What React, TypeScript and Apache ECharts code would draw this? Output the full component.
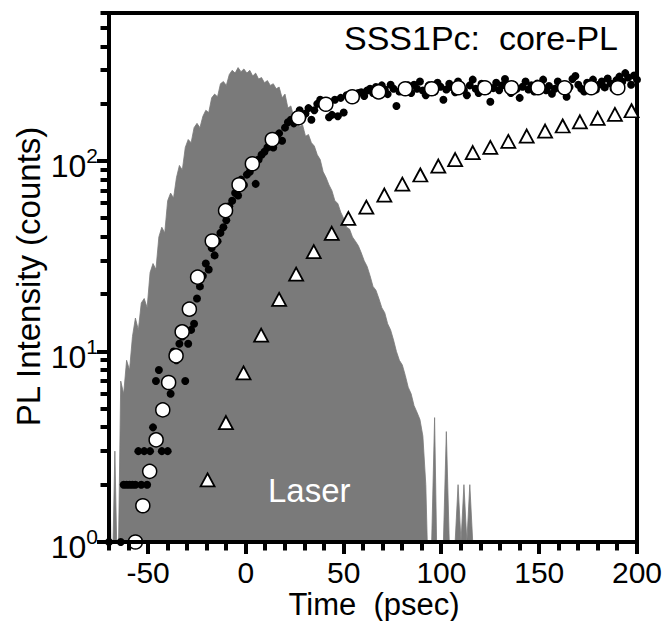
import React, { useEffect, useRef } from "react";
import * as echarts from "echarts";

const FONT = '"Liberation Sans", Arial, Helvetica, sans-serif';

const X_MIN = -70;
const X_MAX = 200;
const Y_MIN = 1;
const Y_MAX = 600;

const X_TICKS = [-70, -60, -50, -40, -30, -20, -10, 0, 10, 20, 30, 40, 50, 60, 70, 80, 90, 100, 110, 120, 130, 140, 150, 160, 170, 180, 190, 200];
const X_LABELS = [-50, 0, 50, 100, 150, 200];
const Y_MAJOR = [1, 10, 100];
const Y_MINOR = [2, 3, 4, 5, 6, 7, 8, 9, 20, 30, 40, 50, 60, 70, 80, 90, 200, 300, 400, 500, 600];

// Laser profile (counts), sampled every 1.5 ps from -70 ps (0.5 = no counts)
const LASER_T0 = -70;
const LASER_DT = 1.5;
const laserCounts = [
  4, 0.5, 3, 0.5, 7, 6, 9, 8, 12, 15, 13, 18, 19, 17, 26, 29, 27, 40, 45, 42,
  62, 68, 64, 82, 95, 90, 118, 130, 125, 150, 158, 150, 172, 185, 180, 215, 225, 218, 255, 262,
  250, 285, 300, 290, 310, 295, 305, 290, 300, 280, 290, 270, 275, 258, 265, 250, 255, 240, 245, 215,
  225, 190, 195, 170, 165, 152, 155, 135, 138, 125, 120, 108, 102, 88, 82, 75, 70, 62, 60, 54,
  50, 45, 44, 40, 38, 36, 33, 30, 28, 25, 22, 21, 19, 17, 16, 14, 13, 11.5, 10, 9,
  8.5, 7.5, 6.5, 6, 5.2, 4.8, 4.4, 3.6, 2, 0.5, 1, 4.5, 0.5, 0.5, 1, 3.8, 1, 0.5, 1, 2,
  1, 2, 1, 2, 1, 0.5,
];

// Core-PL raw counts (black dots), sampled every 1.5 ps from -70 ps (null = no counts)
const DOT_T0 = -70;
const DOT_DT = 1.5;
const dotCounts = [
  1, null, null, null, 1, 2, 2, 2, 2, 2, 3, 2, 3, 2, 3, 4, 7, 8, 3, 5,
  3, 6, 10, 9, 11, 12, 7, 11, 13, 14, 19, 22, 25, 29, 27, 35, 32, 38, 42, 45,
  49, 58, 62, 68, 66, 80, 75, 85, 88, 98, 76, 102, 108, 112, 118, 120, 118, 135, 140, 128,
  150, 160, 165, 158, 175, 185, 170, 178, 190, 165, 185, 200, 210, 205, 195, 170, 175, 210, 172, 215,
  180, 222, 218, 225, 212, 228, 230, 220, 235, 240, 228, 245, 232, 250, 238, 225, 252, 240, 195, 232,
  245, 236, 250, 228, 252, 240, 262, 235, 222, 250, 243, 232, 258, 246, 210, 238, 255, 244, 230, 262,
  248, 236, 222, 250, 268, 240, 228, 255, 245, 235, 205, 242, 258, 236, 250, 270, 244, 228, 252, 240,
  215, 246, 262, 238, 250, 232, 256, 244, 268, 236, 248, 226, 240, 262, 250, 236, 218, 245, 270, 280,
  252, 240, 232, 258, 246, 268, 238, 252, 262, 244, 272, 256, 240, 266, 278, 262, 290, 275, 252, 282,
  268,
];

// Averaged core-PL (open circles)
const circleTimes = [-56.5, -52.7, -49.2, -45.9, -42.5, -39.5, -35.7, -32.6, -28.9, -24.7, -17.2, -10.4, -3.5, 3.3, 13.5, 26.9, 40.9, 54.4, 67.9, 81.5, 95, 108.6, 122.2, 135.8, 149.4, 163, 176.6, 190.2];
const circleCounts = [1.0, 1.55, 2.35, 3.44, 4.94, 6.88, 9.5, 12.7, 16.7, 24.6, 38.1, 55, 75.2, 96.9, 130, 169, 199, 218, 231, 240, 240, 243, 243, 243, 243, 243, 243, 243];

// Open triangles
const triangleTimes = [-19.6, -10.2, -1.2, 7.8, 17, 25.7, 34.7, 43.9, 52.4, 61.6, 70.8, 80, 89.2, 98.4, 107, 116, 125, 134.2, 143.6, 153, 162, 170.8, 179.9, 188.7, 197.2];
const triangleCounts = [2.12, 4.24, 7.73, 12.2, 18.8, 25.5, 33.5, 41.8, 50.1, 57.4, 66.4, 75.8, 84.6, 94.3, 102, 111, 118, 127, 135.5, 144, 153, 161, 168, 176, 184];

const FRAME_W = 4;
const TICK_W = 4;

export default function App() {
  const ref = useRef<HTMLDivElement>(null);

  useEffect(() => {
    if (!ref.current) return;
    const chart = echarts.init(ref.current, undefined, { renderer: "svg" });

    const laserData = laserCounts.map((c, i) => [LASER_T0 + i * LASER_DT, c]);
    const dotData: number[][] = [];
    dotCounts.forEach((c, i) => {
      if (c !== null) dotData.push([DOT_T0 + i * DOT_DT, c as number]);
    });
    const circleData = circleTimes.map((t, i) => [t, circleCounts[i]]);
    const triData = triangleTimes.map((t, i) => [t, triangleCounts[i]]);

    const yTickData = [
      ...Y_MAJOR.map((v) => [X_MIN, v, 1]),
      ...Y_MINOR.map((v) => [X_MIN, v, 0]),
    ];
    const xTickData = X_TICKS.map((v) => [v, Y_MIN, X_LABELS.includes(v) ? 1 : 0]);

    const option: any = {
      animation: false,
      backgroundColor: "#fff",
      grid: {
        left: 109,
        right: 29,
        top: 13,
        bottom: 79,
        show: true,
        borderColor: "#000",
        borderWidth: FRAME_W,
        backgroundColor: "transparent",
      },
      xAxis: {
        type: "value",
        min: X_MIN,
        max: X_MAX,
        interval: 10,
        z: 10,
        axisLine: { show: true, onZero: false, lineStyle: { color: "#000", width: FRAME_W, opacity: 1 } },
        axisTick: { show: false },
        splitLine: { show: false },
        axisLabel: {
          interval: 0,
          margin: 18,
          color: "#000",
          fontFamily: FONT,
          fontSize: 30,
          lineHeight: 24,
          formatter: (v: number) => (X_LABELS.includes(Math.round(v)) ? String(Math.round(v)) : ""),
        },
      },
      yAxis: {
        type: "log",
        logBase: 10,
        min: Y_MIN,
        max: Y_MAX,
        z: 10,
        axisLine: { show: true, onZero: false, lineStyle: { color: "#000", width: FRAME_W, opacity: 1 } },
        axisTick: { show: false },
        splitLine: { show: false },
        minorTick: { show: false },
        axisLabel: {
          margin: 11,
          showMaxLabel: false,
          color: "#000",
          fontFamily: FONT,
          formatter: (v: number) => {
            const e = Math.log10(v);
            const r = Math.round(e);
            if (Math.abs(e - r) > 0.01) return "";
            return `{b|10}{s|${r}}`;
          },
          rich: {
            b: { fontFamily: FONT, fontSize: 32, lineHeight: 32, padding: [10, 0, 0, 0], color: "#000" },
            s: { fontFamily: FONT, fontSize: 21, lineHeight: 21, verticalAlign: "top", color: "#000" },
          },
        },
      },
      series: [
        {
          name: "Laser",
          type: "line",
          data: laserData,
          showSymbol: false,
          symbol: "none",
          clip: true,
          z: 1,
          lineStyle: { color: "#7a7a7a", width: 0.8 },
          areaStyle: { color: "#7a7a7a", opacity: 1, origin: "start" },
          silent: true,
        },
        {
          name: "core-PL",
          type: "scatter",
          data: dotData,
          symbol: "circle",
          symbolSize: 8,
          clip: false,
          z: 3,
          itemStyle: { color: "#000", opacity: 1 },
          silent: true,
        },
        {
          name: "triangles",
          type: "scatter",
          data: triData,
          symbol: "triangle",
          symbolSize: [14, 13],
          clip: false,
          z: 4,
          itemStyle: { color: "#fff", borderColor: "#000", borderWidth: 1.8, opacity: 1 },
          silent: true,
        },
        {
          name: "average",
          type: "scatter",
          data: circleData,
          symbol: "circle",
          symbolSize: 14,
          clip: false,
          z: 5,
          itemStyle: { color: "#fff", borderColor: "#000", borderWidth: 1.5, opacity: 1 },
          silent: true,
        },
        {
          name: "yTicks",
          type: "custom",
          data: yTickData,
          encode: { x: 0, y: 1 },
          z: 11,
          silent: true,
          renderItem: (params: any, api: any) => {
            const p = api.coord([api.value(0), api.value(1)]);
            const len = api.value(2) ? 12 : 8.5;
            const y = Math.round(p[1]);
            return {
              type: "rect",
              shape: { x: p[0] - len, y: y - TICK_W / 2, width: len, height: TICK_W },
              style: { fill: "#000" },
            };
          },
        },
        {
          name: "xTicks",
          type: "custom",
          data: xTickData,
          encode: { x: 0, y: 1 },
          z: 11,
          silent: true,
          renderItem: (params: any, api: any) => {
            const p = api.coord([api.value(0), api.value(1)]);
            const len = api.value(2) ? 12 : 8.5;
            const x = Math.round(p[0]);
            return {
              type: "rect",
              shape: { x: x - TICK_W / 2, y: p[1], width: TICK_W, height: len },
              style: { fill: "#000" },
            };
          },
        },
      ],
      graphic: [
        {
          type: "text",
          x: 618,
          y: 37.5,
          z: 20,
          style: { text: "SSS1Pc:  core-PL", fill: "#000", font: `34px ${FONT}`, align: "right", verticalAlign: "middle" },
        },
        {
          type: "text",
          x: 268,
          y: 490,
          z: 20,
          style: { text: "Laser", fill: "#fff", font: `33px ${FONT}`, align: "left", verticalAlign: "middle" },
        },
        {
          type: "text",
          x: 374,
          y: 604.5,
          z: 20,
          style: { text: "Time  (psec)", fill: "#000", font: `31px ${FONT}`, align: "center", verticalAlign: "middle" },
        },
        {
          type: "text",
          x: 28,
          y: 276.5,
          rotation: Math.PI / 2,
          z: 20,
          style: { text: "PL Intensity (counts)", fill: "#000", font: `33px ${FONT}`, align: "center", verticalAlign: "middle" },
        },
      ],
    };

    chart.setOption(option);
    return () => chart.dispose();
  }, []);

  return (
    <div
      ref={ref}
      style={{ position: "fixed", left: 0, top: 0, width: 666, height: 621, background: "#fff" }}
    />
  );
}
